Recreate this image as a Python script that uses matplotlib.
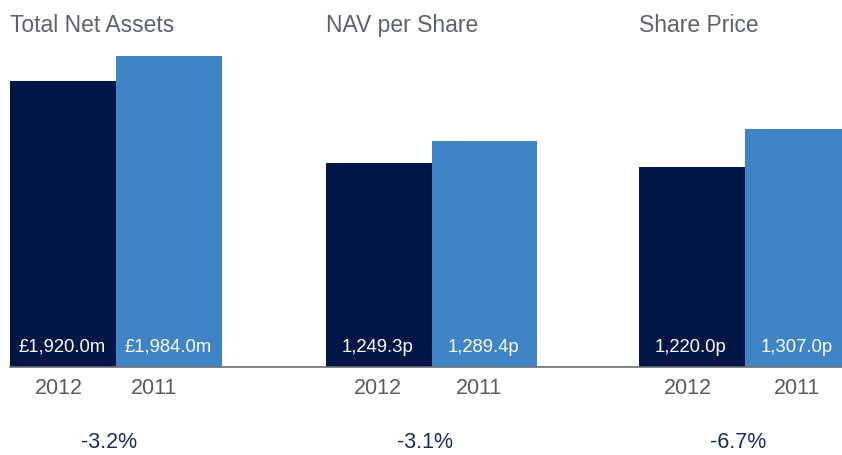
import matplotlib
matplotlib.use("Agg")
import matplotlib.pyplot as plt
from matplotlib.lines import Line2D

plt.rcParams['font.family'] = ['Liberation Sans', 'DejaVu Sans']

# ---- data ----
titles = ["Total Net Assets", "NAV per Share", "Share Price"]
years = ["2012", "2011"]
values_2012 = [1920.0, 1249.3, 1220.0]
values_2011 = [1984.0, 1289.4, 1307.0]
value_labels_2012 = ["£1,920.0m", "1,249.3p", "1,220.0p"]
value_labels_2011 = ["£1,984.0m", "1,289.4p", "1,307.0p"]
changes = ["-3.2%", "-3.1%", "-6.7%"]

# per-panel axis ranges (the original uses a truncated scale per panel)
y_floor = [1187.8, 877.5, 762.1]
y_ceil = [1984.0, 1444.4, 1474.1]

# ---- layout (pixels) ----
W, H = 842, 455
panel_left = [10, 326, 639]
bar_px = [106, 105.5, 106]
base_y = 367
top_y = 56
year_dx = [[-4, -15], [-1, -5], [-4, -1]]

DARK = "#021547"
LIGHT = "#3f85c6"
TITLE_C = "#5e626a"
YEAR_C = "#575b62"
PCT_C = "#1d2b5a"

fig = plt.figure(figsize=(W / 100, H / 100), dpi=100)

for i in range(3):
    l = panel_left[i]
    w = 2 * bar_px[i]
    ax = fig.add_axes([l / W, (H - base_y) / H, w / W, (base_y - top_y) / H])
    vals = [values_2012[i], values_2011[i]]
    ax.bar([0, 1], vals, width=1.0, color=[DARK, LIGHT], bottom=0)
    ax.set_xlim(-0.5, 1.5)
    ax.set_ylim(y_floor[i], y_ceil[i])
    ax.axis("off")

    labs = [value_labels_2012[i], value_labels_2011[i]]
    for j in range(2):
        ax.annotate(labs[j], xy=(j, y_floor[i]), xytext=(-1, 20),
                    textcoords="offset pixels", ha="center", va="center",
                    color="white", fontsize=13.3, annotation_clip=False)
        ax.annotate(years[j], xy=(j, y_floor[i]), xytext=(year_dx[i][j], -22),
                    textcoords="offset pixels", ha="center", va="center",
                    color=YEAR_C, fontsize=15.5, annotation_clip=False)
    ax.annotate(changes[i], xy=(0.5, y_floor[i]), xytext=(-7, -76),
                textcoords="offset pixels", ha="center", va="center",
                color=PCT_C, fontsize=15.5, annotation_clip=False)

    fig.text(l / W, (H - 32) / H, titles[i], ha="left", va="baseline",
             color=TITLE_C, fontsize=16.5)

fig.add_artist(Line2D([10 / W, 1.0], [(H - base_y) / H] * 2,
                      transform=fig.transFigure, color="#6b6e74", lw=1.2))

fig.savefig("out.png", dpi=100)
